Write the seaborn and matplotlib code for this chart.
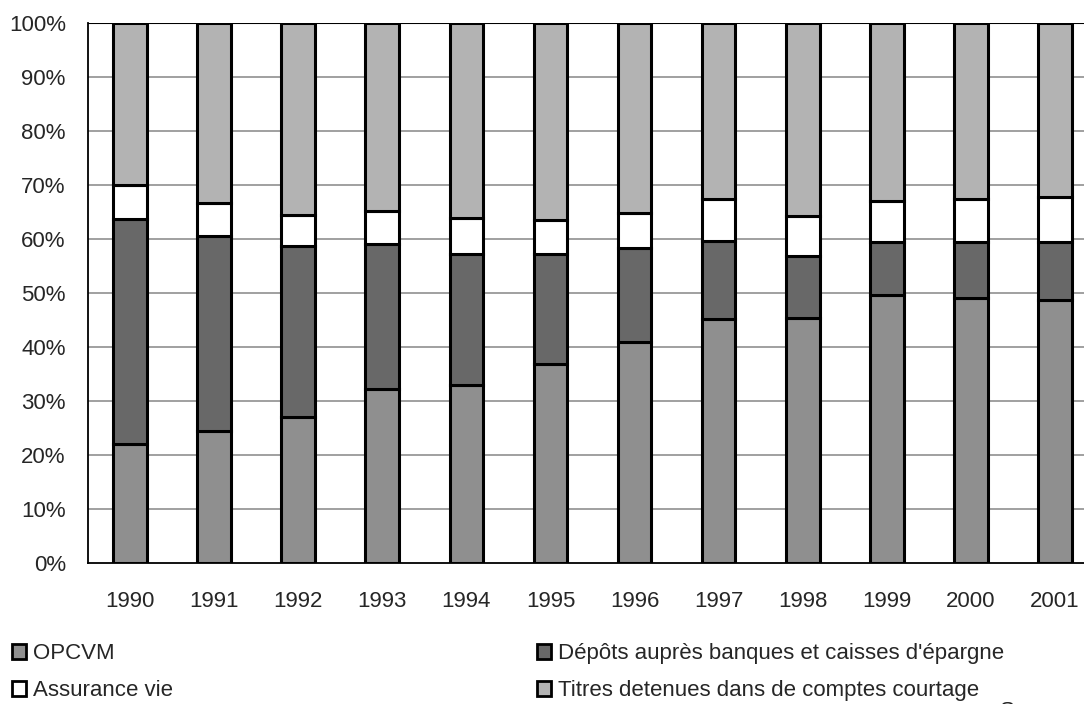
import pandas as pd
import matplotlib.pyplot as plt
import matplotlib.patches as mpatches
import seaborn as sns

# Data (shares in %)
years = ["1990", "1991", "1992", "1993", "1994", "1995",
         "1996", "1997", "1998", "1999", "2000", "2001"]
opcvm = [22.0, 24.5, 27.1, 32.3, 32.9, 36.9, 40.9, 45.1, 45.3, 49.6, 49.0, 48.7]
depots_top = [63.7, 60.5, 58.7, 59.1, 57.2, 57.2, 58.4, 59.7, 56.9, 59.4, 59.4, 59.4]
assur_top = [70.0, 66.6, 64.5, 65.1, 63.9, 63.6, 64.8, 67.4, 64.2, 67.1, 67.4, 67.7]

depots = [d - o for d, o in zip(depots_top, opcvm)]
assurance = [a - d for a, d in zip(assur_top, depots_top)]
titres = [100 - a for a in assur_top]

labels = ["OPCVM", "Dépôts auprès banques et caisses d'épargne",
          "Assurance vie", "Titres detenues dans de comptes courtage"]
colors = ["#8f8f8f", "#686868", "#ffffff", "#b3b3b3"]

df = pd.DataFrame({"year": years, labels[0]: opcvm, labels[1]: depots,
                   labels[2]: assurance, labels[3]: titres})

sns.set_style("white")
plt.rcParams['font.family'] = ['Liberation Sans', 'DejaVu Sans']
fs = 16

fig = plt.figure(figsize=(10.84, 7.04), dpi=100)
ax = fig.add_axes([88 / 1084, 141 / 704, 1009 / 1084, 540 / 704])

bottom = [0.0] * len(years)
for lab, col in zip(labels, colors):
    sns.barplot(data=df, x="year", y=lab, bottom=bottom, color=col,
                width=0.4, edgecolor="black", linewidth=2.2, ax=ax, zorder=3)
    bottom = [b + v for b, v in zip(bottom, df[lab])]

ax.set_xlim(-0.5, len(years) - 0.5)
ax.set_ylim(0, 100)
ax.set_yticks(range(0, 101, 10))
ax.set_yticklabels([f"{v}%" for v in range(0, 101, 10)], fontsize=fs)
ax.set_xticks(range(len(years)))
ax.set_xticklabels(years, fontsize=fs)
ax.set_xticks([i - 0.5 for i in range(len(years) + 1)], minor=True)
ax.tick_params(axis="x", which="major", length=0, pad=20)
ax.tick_params(axis="x", which="minor", length=8, width=1.2, color="black", direction="out")
ax.tick_params(axis="y", length=9, width=1.2, color="black", direction="out", pad=7)
ax.set_xlabel("")
ax.set_ylabel("")

for v in range(10, 100, 10):
    ax.axhline(v, color="#999999", linewidth=1.3, zorder=1)
ax.axhline(100, color="black", linewidth=1.5, zorder=2)

for side in ["top", "right"]:
    ax.spines[side].set_visible(False)
for side in ["left", "bottom"]:
    ax.spines[side].set_linewidth(1.3)
    ax.spines[side].set_color("black")

# Legend: two columns below the plot
def legend_col(idx, x):
    handles = [mpatches.Patch(facecolor=colors[i], edgecolor="black", linewidth=2) for i in idx]
    leg = fig.legend(handles, [labels[i] for i in idx], loc="upper left",
                     bbox_to_anchor=(x, 1 - 643 / 704), frameon=False, fontsize=fs,
                     handlelength=0.65, handleheight=0.65, handletextpad=0.3,
                     labelspacing=0.72, borderaxespad=0, borderpad=0)
    return leg

legend_col([0, 2], 12 / 1084)
legend_col([1, 3], 537 / 1084)

fig.text(1000 / 1084, 1 - 701 / 704, "Source : ICI", fontsize=fs, va="top", ha="left")

fig.savefig("out.png", dpi=100)
